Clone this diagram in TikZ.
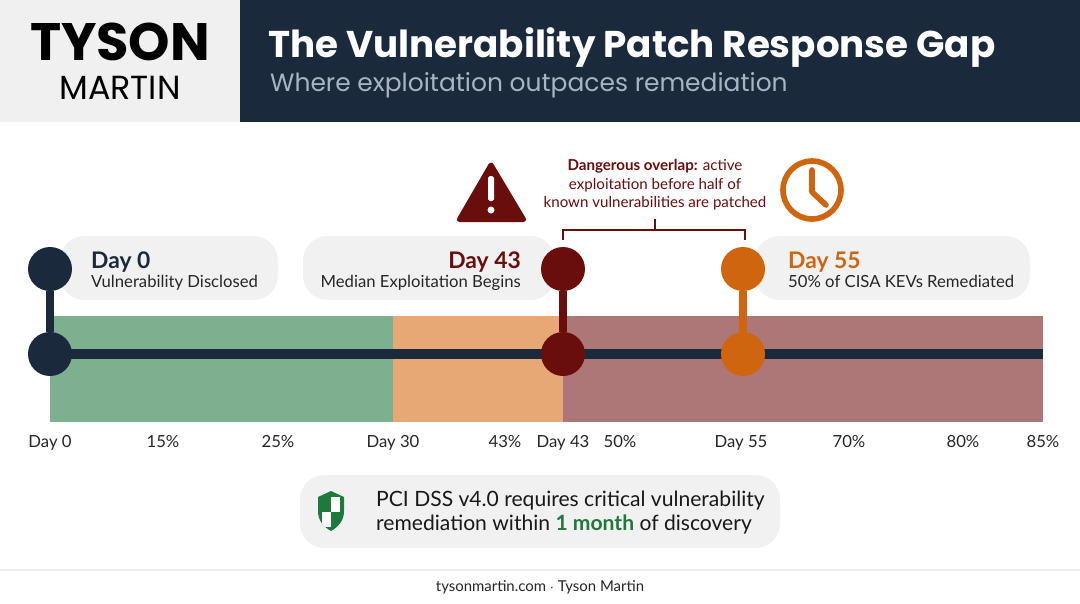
\documentclass[tikz,border=0pt]{standalone}
\usepackage{fontspec}
\setmainfont{Lato}
\newfontfamily\headfont{Poppins}
\usetikzlibrary{positioning}
\definecolor{navy}{HTML}{1A2A3C}
\definecolor{zgreen}{HTML}{7DB08F}
\definecolor{zorange}{HTML}{E7A876}
\definecolor{zrose}{HTML}{AE7777}
\definecolor{darkred}{HTML}{6A0D0D}
\definecolor{burnt}{HTML}{D0650F}
\definecolor{pill}{HTML}{F1F1F1}
\definecolor{subgray}{HTML}{A9B4C2}
\definecolor{shield}{HTML}{1E7A3C}
\begin{document}
\begin{tikzpicture}[x=0.02cm,y=-0.02cm,
		dot/.style = {circle, minimum size=44*0.02cm, inner sep=0pt},
		stem/.style = {line width=5pt},
		tick/.style = {font=\fontsize{9.5}{11}\selectfont, text=black!85},
		daytitle/.style = {font=\bfseries\fontsize{13}{14}\selectfont},
		daysub/.style = {font=\fontsize{9.5}{11}\selectfont, text=black!85},
		box/.style = {fill=pill, rounded corners=14pt}]
	\useasboundingbox (0,0) rectangle (1080,603);
	\fill[white] (0,0) rectangle (1080,603);
	% header
	\fill[black!6] (0,0) rectangle (240,122);
	\fill[navy] (240,0) rectangle (1080,122);
	\node[font=\headfont\bfseries\fontsize{30}{30}\selectfont, inner sep=0pt, anchor=base] (logo) at (120,60) {TYSON};
	\node[font=\headfont\fontsize{19}{19}\selectfont, inner sep=0pt, anchor=base] (logob) at (120,99) {MARTIN};
	\node[anchor=base west, text=white, font=\headfont\bfseries\fontsize{21.2}{24}\selectfont] (title) at (262,57) {The Vulnerability Patch Response Gap};
	\node[anchor=base west, text=subgray, font=\headfont\fontsize{14.2}{16}\selectfont] (subtitle) at (264,91) {Where exploitation outpaces remediation};
	% label pills
	\fill[box] (60,236) rectangle (278,300);
	\fill[box] (303,236) rectangle (555,300);
	\fill[box] (755,236) rectangle (1030,300);
	\node[anchor=base west, daytitle, text=navy] (d0) at (85,268) {Day 0};
	\node[anchor=base west, daysub] (d0s) at (85,287) {Vulnerability Disclosed};
	\node[anchor=base east, daytitle, text=darkred] (d43) at (527,268) {Day 43};
	\node[anchor=base east, daysub] (d43s) at (527,287) {Median Exploitation Begins};
	\node[anchor=base west, daytitle, text=burnt] (d55) at (782,268) {Day 55};
	\node[anchor=base west, daysub] (d55s) at (782,287) {50\% of CISA KEVs Remediated};
	% bands
	\fill[zgreen] (50,316) rectangle (393,422);
	\fill[zorange] (393,316) rectangle (563,422);
	\fill[zrose] (563,316) rectangle (1043,422);
	\coordinate (lstart) at (50,354);
	\coordinate (lend) at (1043,354);
	\draw[navy, line width=6pt] (lstart) -- (lend);
	% milestones
	\node[dot, fill=navy] (m0t) at (50,269) {};
	\node[dot, fill=navy] (m0b) at (50,354) {};
	\node[dot, fill=darkred] (m1t) at (563,269) {};
	\node[dot, fill=darkred] (m1b) at (563,354) {};
	\node[dot, fill=burnt] (m2t) at (743,269) {};
	\node[dot, fill=burnt] (m2b) at (743,354) {};
	\draw[stem, navy] (m0t) -- (m0b);
	\draw[stem, darkred] (m1t) -- (m1b);
	\draw[stem, burnt] (m2t) -- (m2b);
	% axis labels
	\foreach \px/\lab in {50/Day 0, 163/15\%, 278/25\%, 393/Day 30, 505/43\%, 563/Day 43, 620/50\%, 741/Day 55, 849/70\%, 963/80\%, 1043/85\%}
		\node[tick, anchor=base] at (\px,447) {\lab};
	% overlap callout
	\draw[darkred, line width=1.2pt] (563,240) -- (563,230) -- (745,230) -- (745,240);
	\draw[darkred, line width=1.2pt] (655,230) -- (655,219);
	\node[text=darkred, align=center, font=\fontsize{8.6}{10.5}\selectfont] (note) at (655,185) {\textbf{Dangerous overlap:} active\\exploitation before half of\\known vulnerabilities are patched};
	% warning icon
	\fill[darkred, rounded corners=3pt] (491,160) -- (528,222) -- (455,222) -- cycle;
	\fill[white, rounded corners=1pt] (488,176) rectangle (494,201);
	\fill[white] (491,210) circle (3.5);
	% clock icon
	\draw[burnt, line width=3.2pt] (812,190) circle (29);
	\draw[burnt, line width=3.2pt, line cap=round, line join=round] (812,170) -- (812,192) -- (826,205);
	% pci box
	\fill[box] (300,475) rectangle (780,548);
	\begin{scope}
		\path[clip] (318,497) -- (331,491) -- (344,497) -- (344,511) .. controls (344,521) and (338,527) .. (331,531) .. controls (324,527) and (318,521) .. (318,511) -- cycle;
		\fill[shield] (310,485) rectangle (350,535);
		\fill[white] (331,497) rectangle (340,512);
		\fill[white] (322,512) rectangle (331,527);
	\end{scope}
	\node[anchor=base west, font=\fontsize{12}{13.6}\selectfont, text=black!90] (pci) at (370,506) {PCI DSS v4.0 requires critical vulnerability};
	\node[anchor=base west, font=\fontsize{12}{13.6}\selectfont, text=black!90] (pci2) at (370,530) {remediation within \textcolor{shield}{\bfseries 1 month} of discovery};
	% footer
	\draw[black!8, line width=1pt] (0,570) -- (1080,570);
	\node[font=\fontsize{8.5}{10}\selectfont, text=black!85] (foot) at (540,587) {tysonmartin.com $\cdot$ Tyson Martin};
\end{tikzpicture}
\end{document}
